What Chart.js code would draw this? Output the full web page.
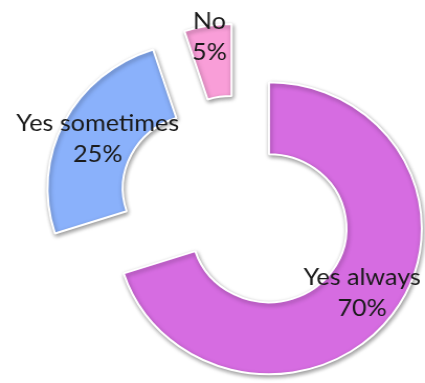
<!DOCTYPE html>
<html>
<head>
<meta charset="utf-8">
<script src="https://cdn.jsdelivr.net/npm/chart.js@4.4.1/dist/chart.umd.min.js"></script>
<style>
  html, body { margin: 0; padding: 0; background: #fff; overflow: hidden; }
  #wrap { width: 406px; height: 383px; transform: scaleX(1.0468); transform-origin: 0 0; }
</style>
</head>
<body>
<div id="wrap">
  <canvas id="myChart" width="406" height="383" style="width:406px;height:383px"></canvas>
</div>
<script>
// 응답 비율 데이터
const categories = ['Yes always', 'Yes sometimes', 'No'];
const shares = [70, 25, 5];
const sliceColors = ['#D66CE1', '#8AB1FB', '#F99ED8'];
// 조각을 중심에서 떼어내는 거리 (px)
const sliceExplode = [37, 40, 37];

// 조각을 바깥쪽으로 밀어서 직접 그림 (그림자 포함)
const explodePlugin = {
    id: 'explodeSlices',
    beforeDatasetDraw(chart, args) {
        const ctx = chart.ctx;
        const meta = args.meta;
        ctx.save();
        ctx.shadowColor = 'rgba(0,0,0,0.38)';
        ctx.shadowBlur = 4;
        ctx.shadowOffsetX = 1;
        ctx.shadowOffsetY = 2;
        meta.data.forEach((arc, i) => {
            const mid = (arc.startAngle + arc.endAngle) / 2;
            ctx.save();
            ctx.translate(Math.cos(mid) * sliceExplode[i], Math.sin(mid) * sliceExplode[i]);
            arc.draw(ctx, chart.chartArea);
            ctx.restore();
        });
        ctx.restore();
        return false;
    }
};

// 조각 위에 항목명과 비율 표시
const labelPlugin = {
    id: 'sliceLabels',
    afterDraw(chart) {
        const ctx = chart.ctx;
        const meta = chart.getDatasetMeta(0);
        const total = shares.reduce((a, b) => a + b, 0);
        ctx.save();
        ctx.font = '24px Lato';
        ctx.fillStyle = '#1a1a1a';
        ctx.textAlign = 'center';
        ctx.textBaseline = 'middle';
        meta.data.forEach((arc, i) => {
            const mid = (arc.startAngle + arc.endAngle) / 2;
            let r = (arc.innerRadius + arc.outerRadius) / 2 + sliceExplode[i];
            if (shares[i] / total < 0.1) r += 25; // 작은 조각은 바깥쪽으로
            const x = arc.x + Math.cos(mid) * r;
            const y = arc.y + Math.sin(mid) * r;
            ctx.fillText(categories[i], x, y - 15.5);
            ctx.fillText(shares[i] + '%', x, y + 15.5);
        });
        ctx.restore();
    }
};

const ctx = document.getElementById('myChart').getContext('2d');
new Chart(ctx, {
    type: 'doughnut',
    data: {
        labels: categories,
        datasets: [{
            data: shares,
            backgroundColor: sliceColors,
            borderColor: '#ffffff',
            borderWidth: 2
        }]
    },
    options: {
        responsive: false,
        animation: false,
        devicePixelRatio: 1,
        radius: 146,
        cutout: '50.7%',
        layout: { padding: { left: 48, right: 0, top: 30, bottom: 0 } },
        plugins: {
            legend: { display: false },
            tooltip: { enabled: false }
        }
    },
    plugins: [explodePlugin, labelPlugin]
});
</script>
</body>
</html>
